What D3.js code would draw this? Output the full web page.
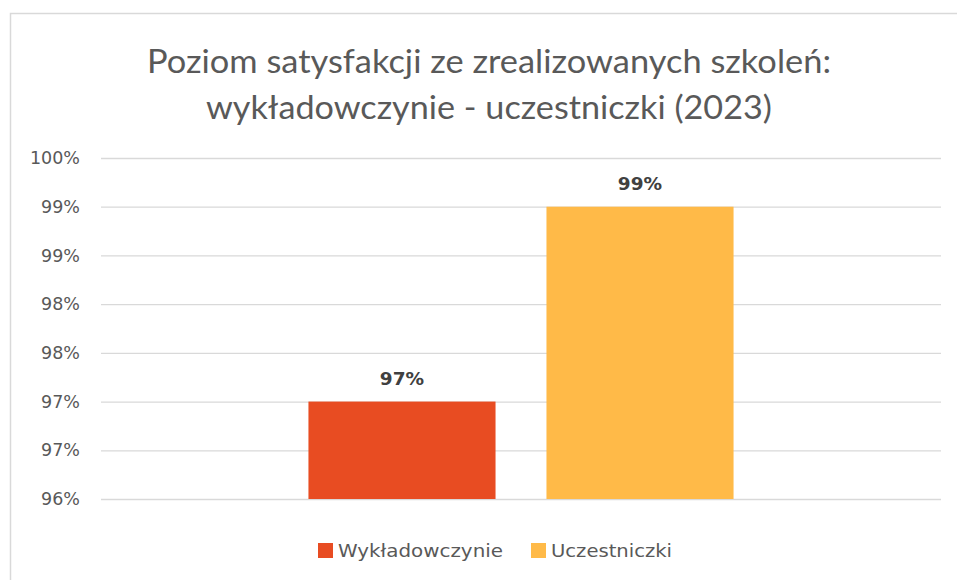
<!DOCTYPE html>
<html>
<head>
<meta charset="utf-8">
<script src="https://cdn.jsdelivr.net/npm/d3@7.9.0/dist/d3.min.js"></script>
<style>
  body { margin: 0; background: #fff; }
  svg { display: block; font-family: "DejaVu Sans", sans-serif; }
</style>
</head>
<body>
<svg id="chart" width="957" height="580"></svg>
<script>
const titleLines = ['Poziom satysfakcji ze zrealizowanych szkoleń:', 'wykładowczynie - uczestniczki (2023)'];
const series = ['Wykładowczynie', 'Uczestniczki'];
const values = [0.975, 0.995];
const valueLabels = ['97%', '99%'];
const colorsList = ['#E84C22', '#FFBA48'];
const tickValues = [0.965, 0.97, 0.975, 0.98, 0.985, 0.99, 0.995, 1.0];
const tickLabels = ['96%', '97%', '97%', '98%', '98%', '99%', '99%', '100%'];

const svg = d3.select('#chart');

// chart frame (only the top and left edges fall inside the picture)
svg.append('rect')
  .attr('x', 10.5).attr('y', 13.5)
  .attr('width', 1000).attr('height', 1000)
  .attr('fill', 'none').attr('stroke', '#D9D9D9').attr('stroke-width', 1.5);

// title
const titleWidths = [684, 566];
svg.selectAll('text.title')
  .data(titleLines)
  .join('text')
  .attr('class', 'title')
  .attr('x', 489)
  .attr('y', (d, i) => 73 + i * 46)
  .attr('text-anchor', 'middle')
  .attr('fill', '#595959')
  .attr('font-family', 'Lato, "Open Sans", sans-serif')
  .attr('font-size', 32)
  .attr('textLength', (d, i) => titleWidths[i])
  .attr('lengthAdjust', 'spacingAndGlyphs')
  .text(d => d);

const plot = { left: 101, right: 941, top: 158, bottom: 499 };

const y = d3.scaleLinear().domain([0.965, 1.0]).range([plot.bottom, plot.top]);
const x0 = d3.scaleBand().domain(['2023']).range([plot.left, plot.right]).paddingInner(0).paddingOuter(0.488);
const x1 = d3.scaleBand().domain(series).range([0, x0.bandwidth()]).paddingInner(0.214).paddingOuter(0);
const color = d3.scaleOrdinal().domain(series).range(colorsList);

// gridlines
const grid = d3.axisLeft(y).tickValues(tickValues).tickSize(-(plot.right - plot.left)).tickFormat('');
svg.append('g')
  .attr('transform', `translate(${plot.left},0)`)
  .call(grid)
  .call(g => g.select('.domain').remove())
  .call(g => g.selectAll('line').attr('stroke', '#D9D9D9').attr('stroke-width', 1.3));

// y labels
const yAxis = d3.axisLeft(y).tickValues(tickValues).tickSize(0).tickPadding(21)
  .tickFormat((d, i) => tickLabels[i]);
svg.append('g')
  .attr('transform', `translate(${plot.left},0)`)
  .call(yAxis)
  .call(g => g.select('.domain').remove())
  .call(g => g.selectAll('text')
    .attr('fill', '#595959')
    .attr('font-size', 17.5)
    .attr('font-family', '"DejaVu Sans", sans-serif'));

// bars
const data = series.map((s, i) => ({ series: s, value: values[i], label: valueLabels[i] }));
const group = svg.append('g').attr('transform', `translate(${x0('2023')},0)`);

group.selectAll('rect.bar')
  .data(data)
  .join('rect')
  .attr('class', 'bar')
  .attr('x', d => x1(d.series))
  .attr('y', d => y(d.value))
  .attr('width', x1.bandwidth())
  .attr('height', d => y(0.965) - y(d.value))
  .attr('fill', d => color(d.series));

group.selectAll('text.value')
  .data(data)
  .join('text')
  .attr('class', 'value')
  .attr('x', d => x1(d.series) + x1.bandwidth() / 2)
  .attr('y', d => y(d.value) - 17)
  .attr('text-anchor', 'middle')
  .attr('fill', '#404040')
  .attr('font-size', 18.5)
  .attr('font-weight', 'bold')
  .text(d => d.label);

// legend
const legendX = [318, 531];
const legendW = [165, 121];
const legend = svg.append('g');
const items = legend.selectAll('g')
  .data(series)
  .join('g')
  .attr('transform', (d, i) => `translate(${legendX[i]},543)`);
items.append('rect')
  .attr('width', 15).attr('height', 15)
  .attr('fill', d => color(d));
items.append('text')
  .attr('x', 20).attr('y', 14)
  .attr('fill', '#595959')
  .attr('font-size', 17)
  .attr('textLength', (d, i) => legendW[i])
  .attr('lengthAdjust', 'spacingAndGlyphs')
  .text(d => d);
</script>
</body>
</html>
